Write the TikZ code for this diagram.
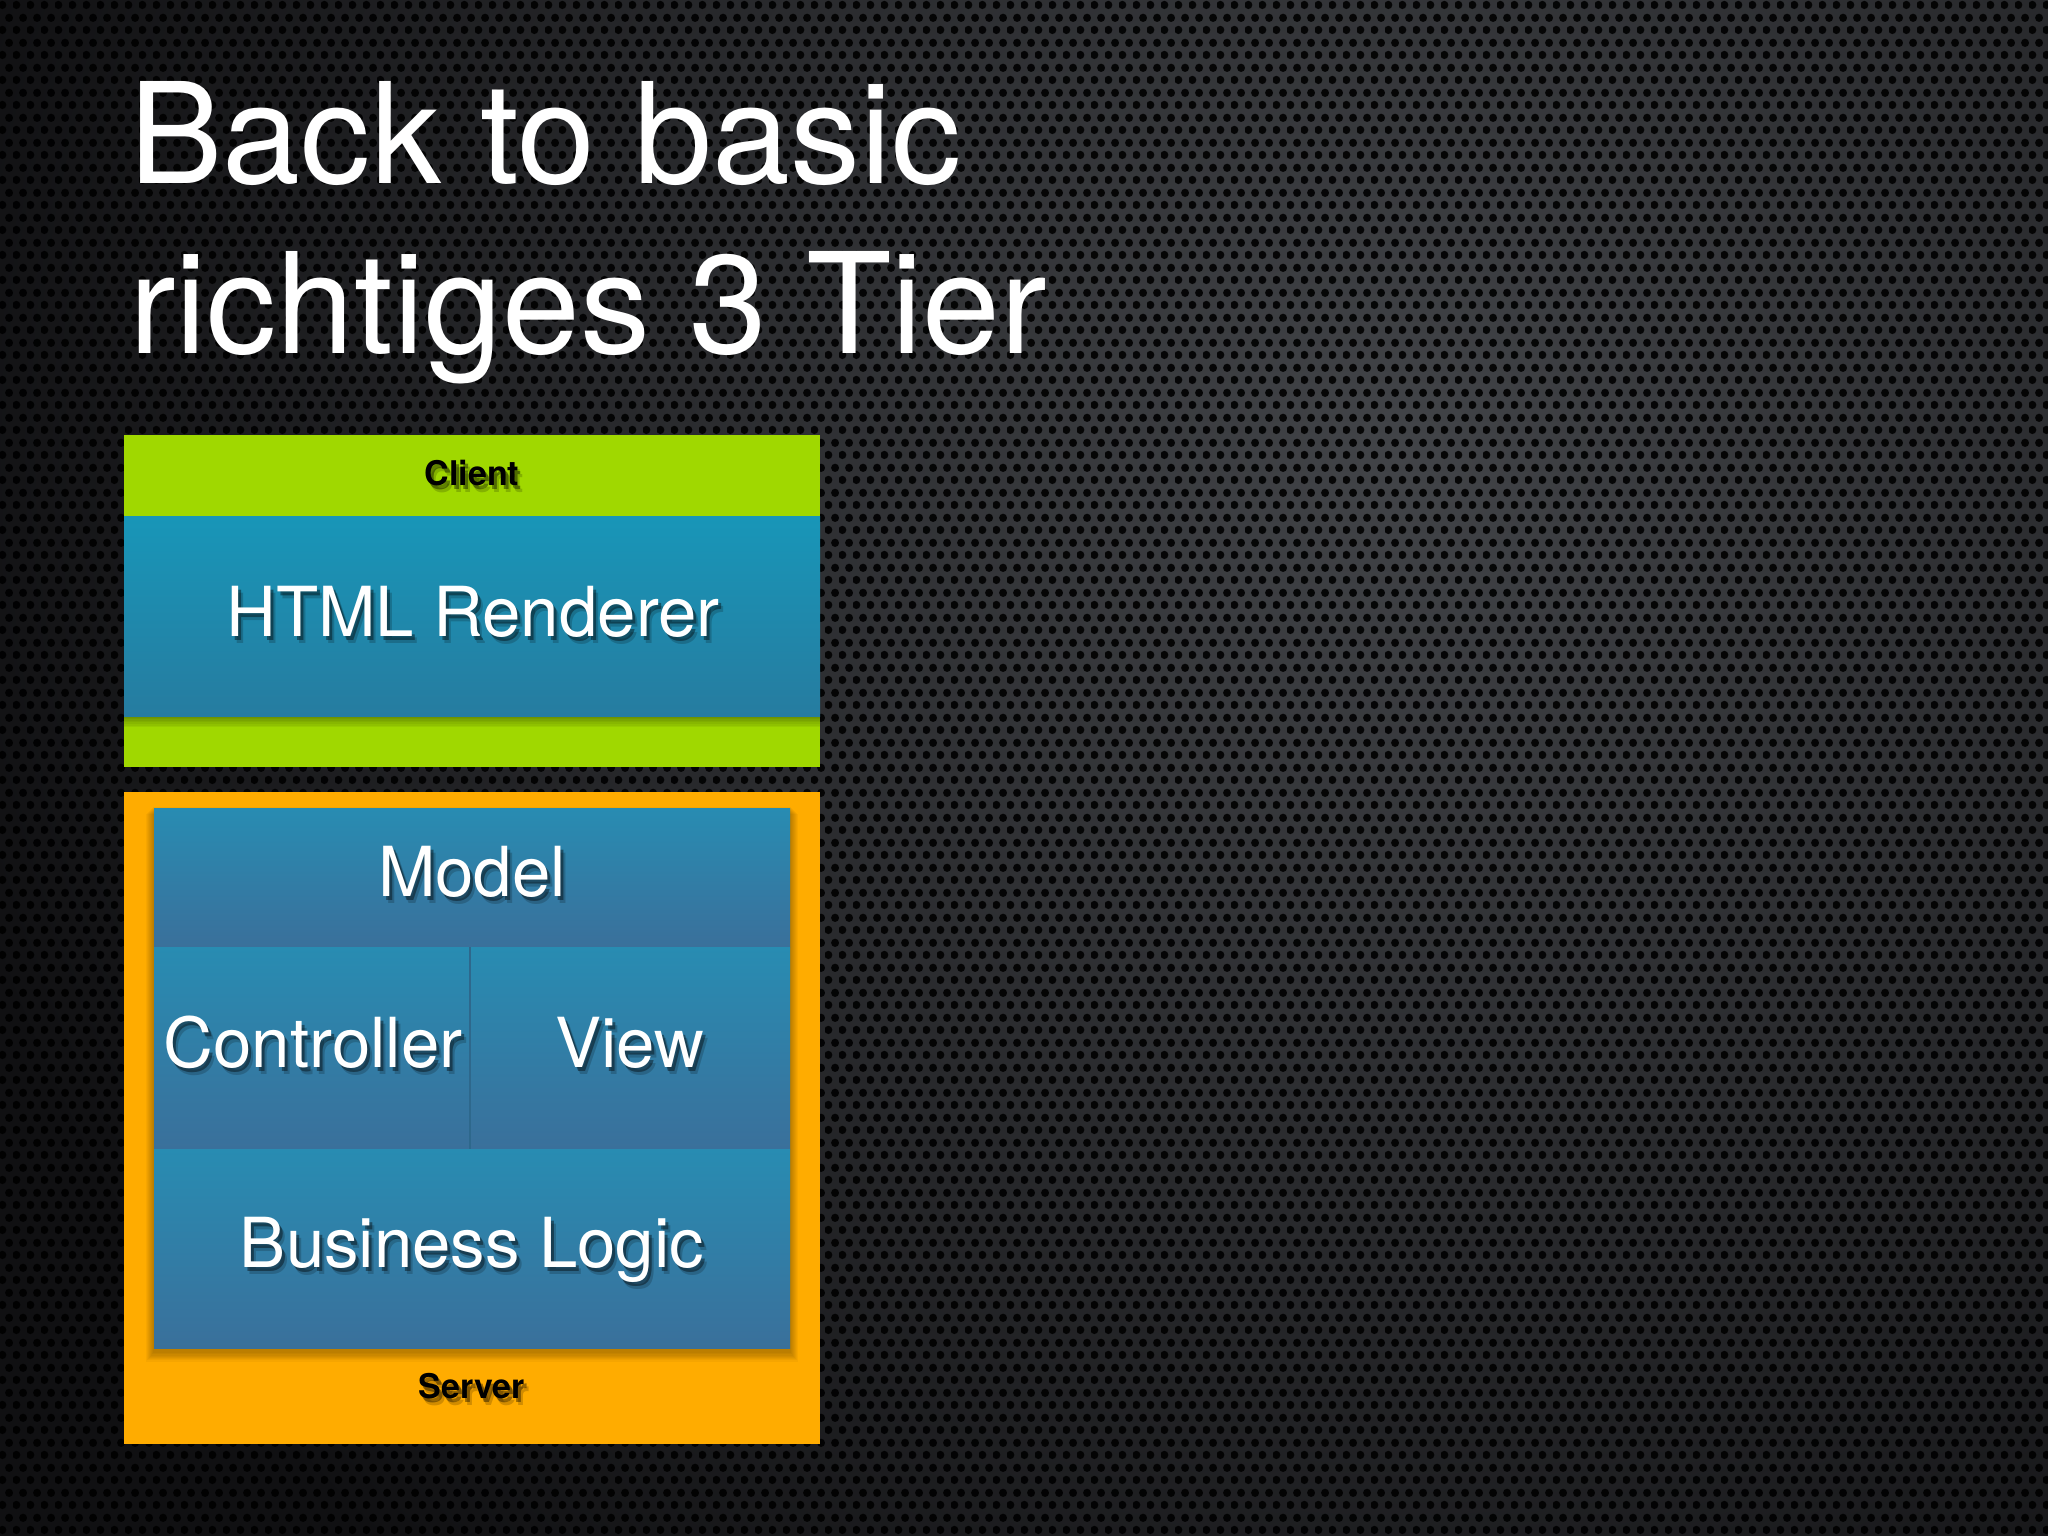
\documentclass[tikz,border=0pt]{standalone}
\usepackage{fontspec}
\setmainfont{TeX Gyre Heros}
\usetikzlibrary{patterns}
\pgfdeclarepatternformonly{holes}{\pgfpointorigin}{\pgfpoint{14.2pt}{24.6pt}}{\pgfpoint{14.2pt}{24.6pt}}{%
  \pgfpathcircle{\pgfpoint{3.55pt}{6.15pt}}{4.2pt}%
  \pgfpathcircle{\pgfpoint{10.65pt}{18.45pt}}{4.2pt}%
  \pgfusepath{fill}}
\definecolor{bginner}{RGB}{66,68,72}
\definecolor{bgouter}{RGB}{16,16,18}
\definecolor{limeband}{RGB}{160,216,0}
\definecolor{htmltop}{RGB}{24,150,184}
\definecolor{htmlbot}{RGB}{38,124,160}
\definecolor{celltop}{RGB}{40,140,178}
\definecolor{cellbot}{RGB}{58,112,155}
\definecolor{orangeband}{RGB}{255,172,0}
\definecolor{dividercol}{RGB}{46,104,140}
\newcommand\shadowedlabel[5]{%
  \node[lbl,#4,text=black,text opacity=0.18] (#1-shb) at (#2+5,#3-7) {#5};
  \node[lbl,#4,text=black,text opacity=0.40] (#1-sha) at (#2+3,#3-4) {#5};
  \node[lbl,#4] (#1) at (#2,#3) {#5};
}
\begin{document}
\begin{tikzpicture}[x=1pt,y=1pt,
  lbl/.style={anchor=base,inner sep=0pt},
  bigwhite/.style={text=white,font=\fontsize{69}{80}\selectfont},
  tierlabel/.style={text=black,font=\bfseries\fontsize{34}{40}\selectfont},
  titletext/.style={anchor=base west,inner sep=0pt,text=white,font=\fontsize{140}{170}\selectfont}]
\useasboundingbox (0,0) rectangle (2048,-1536);
% background
\fill[bgouter] (0,0) rectangle (2048,-1536);
\begin{scope}
  \clip (0,0) rectangle (2048,-1536);
  \shade[inner color=bginner, outer color=bgouter] (1400,-450) circle (1500);
\end{scope}
\fill[pattern=holes, pattern color=black, fill opacity=0.9] (0,0) rectangle (2048,-1536);
% title
\node[titletext] (title1) at (129,-183) {Back to basic};
\node[titletext] (title2) at (129,-353) {richtiges 3 Tier};
% client tier
\fill[limeband] (124,-435) rectangle (820,-767);
\foreach \i in {1,...,7}
  \fill[black,opacity=0.05] (124,-516) rectangle (820,{-716-1.6*\i});
\shade[top color=htmltop,bottom color=htmlbot] (124,-516) rectangle (820,-716);
% server tier
\fill[orangeband] (124,-792) rectangle (820,-1444);
\foreach \i in {1,...,8}
  \fill[black,opacity=0.035] ({154-\i},{-806-\i}) rectangle ({790+\i},{-1352-1.2*\i});
\shade[top color=celltop,bottom color=cellbot] (154,-808) rectangle (790,-947);
\shade[top color=celltop,bottom color=cellbot] (154,-947) rectangle (470,-1149);
\shade[top color=celltop,bottom color=cellbot] (470,-947) rectangle (790,-1149);
\shade[top color=celltop,bottom color=cellbot] (154,-1149) rectangle (790,-1348);
\draw[dividercol,line width=2pt] (470,-947) -- (470,-1149);
% labels
\shadowedlabel{client}{472}{-485}{tierlabel}{Client}
\shadowedlabel{html}{473}{-636}{bigwhite}{HTML Renderer}
\shadowedlabel{model}{472}{-896}{bigwhite}{Model}
\shadowedlabel{controller}{313}{-1067}{bigwhite}{Controller}
\shadowedlabel{view}{630}{-1067}{bigwhite}{View}
\shadowedlabel{business}{472}{-1267}{bigwhite}{Business Logic}
\shadowedlabel{server}{472}{-1398}{tierlabel}{Server}
\end{tikzpicture}
\end{document}
